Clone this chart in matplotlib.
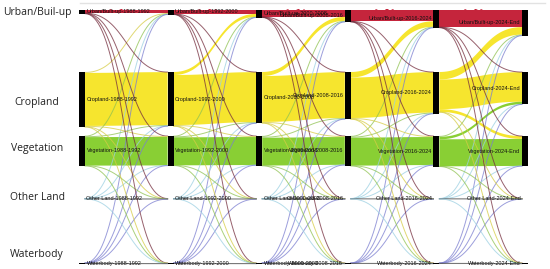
"""Land-cover transition (Sankey-style) chart, 1988 to 2024."""

import matplotlib.pyplot as plt
import numpy as np
from matplotlib.patches import Polygon, Rectangle

plt.rcParams["font.family"] = ["Open Sans", "DejaVu Sans"]

side_labels = ["Urban/Buil-up", "Cropland", "Vegetation", "Other Land", "Waterbody"]
node_names = ["Urban/Built-up", "Cropland", "Vegetation", "Other Land", "Waterbody"]
periods = ["1988-1992", "1992-2000", "2000-2008", "2008-2016", "2016-2024", "2024-End"]

# rows = source class, columns = target class (U, C, V, O, W)
flows_1 = [
    [3.6, 0.15, 0.15, 0.15, 0.15],
    [0.9, 53.0, 0.8, 0.15, 0.15],
    [0.3, 0.8, 28.5, 0.15, 0.15],
    [0.1, 0.1, 0.1, 0.1, 0.1],
    [0.1, 0.1, 0.1, 0.1, 0.1],
]
flows_2 = [
    [4.4, 0.15, 0.15, 0.15, 0.15],
    [3.0, 50.0, 0.9, 0.15, 0.15],
    [0.4, 0.9, 28.0, 0.15, 0.15],
    [0.1, 0.1, 0.1, 0.1, 0.1],
    [0.1, 0.1, 0.1, 0.1, 0.1],
]
flows_3 = [
    [7.4, 0.15, 0.15, 0.15, 0.15],
    [4.0, 45.9, 0.9, 0.15, 0.15],
    [0.8, 0.9, 27.8, 0.15, 0.15],
    [0.1, 0.1, 0.1, 0.1, 0.1],
    [0.1, 0.1, 0.1, 0.1, 0.1],
]
flows_4 = [
    [11.8, 0.15, 0.15, 0.15, 0.15],
    [5.5, 40.5, 0.9, 0.15, 0.15],
    [0.7, 0.9, 28.0, 0.15, 0.15],
    [0.1, 0.1, 0.1, 0.1, 0.1],
    [0.1, 0.1, 0.1, 0.1, 0.1],
]
flows_5 = [
    [17.6, 0.15, 0.15, 0.15, 0.15],
    [7.5, 29.6, 2.8, 0.15, 0.15],
    [0.8, 2.5, 27.0, 0.15, 0.15],
    [0.1, 0.1, 0.1, 0.1, 0.1],
    [0.1, 0.1, 0.1, 0.1, 0.1],
]
transitions = [flows_1, flows_2, flows_3, flows_4, flows_5]

band_colors = ["#c0122b", "#f6e31c", "#7fcb22", "#a9dbe9", "#8486d6"]
line_colors = ["#742c3c", "#d6cc45", "#8fc250", "#9cd0e2", "#7b7ed0"]

# layout (pixel units of the 550x269 canvas)
col_x = np.linspace(79, 522, len(periods))
node_w = 6
node_top = [9.5, 72, 136, 198.5, 263]
label_y = [12, 102, 149, 198, 254]


def bezier(y0, y1, x0, x1, n=50):
    t = np.linspace(0, 1, n)
    xm = (x0 + x1) / 2
    x = (1 - t) ** 3 * x0 + 3 * (1 - t) ** 2 * t * xm + 3 * (1 - t) * t ** 2 * xm + t ** 3 * x1
    y = (1 - t) ** 3 * y0 + 3 * (1 - t) ** 2 * t * y0 + 3 * (1 - t) * t ** 2 * y1 + t ** 3 * y1
    return x, y


fig = plt.figure(figsize=(5.5, 2.69), dpi=100)
ax = fig.add_axes([0, 0, 1, 1])
ax.set_xlim(0, 550)
ax.set_ylim(269, 0)
ax.axis("off")

# node heights = max(inflow, outflow)
n_cls = len(node_names)
heights = np.zeros((len(periods), n_cls))
for t, mat in enumerate(transitions):
    m = np.array(mat)
    heights[t] = np.maximum(heights[t], m.sum(axis=1))
    heights[t + 1] = np.maximum(heights[t + 1], m.sum(axis=0))

# stack links: outgoing ordered by target, incoming ordered by source
thick, thin = [], []
for t, mat in enumerate(transitions):
    m = np.array(mat)
    x0 = col_x[t] + node_w
    x1 = col_x[t + 1]
    src_pos = {}
    off = np.zeros(n_cls)
    for s in range(n_cls):
        for d in range(n_cls):
            src_pos[(s, d)] = node_top[s] + off[s]
            off[s] += m[s, d]
    off = np.zeros(n_cls)
    for d in range(n_cls):
        for s in range(n_cls):
            w = m[s, d]
            yd = node_top[d] + off[d]
            off[d] += w
            item = (s, d, x0, x1, src_pos[(s, d)], yd, w)
            (thick if w >= 1 else thin).append(item)

for s, d, x0, x1, ys, yd, w in thick:
    xt, yt = bezier(ys, yd, x0, x1)
    xb, yb = bezier(ys + w, yd + w, x0, x1)
    pts = np.column_stack([np.r_[xt, xb[::-1]], np.r_[yt, yb[::-1]]])
    ax.add_patch(Polygon(pts, closed=True, facecolor=band_colors[s],
                         edgecolor="none", alpha=0.92, zorder=1))

for s, d, x0, x1, ys, yd, w in thin:
    xc, yc = bezier(ys + w / 2, yd + w / 2, x0, x1)
    if s == d and s >= 3:
        ax.plot(xc, yc, color="#555555", lw=0.8, alpha=0.8, zorder=2)
    else:
        ax.plot(xc, yc, color=line_colors[s], lw=0.7, alpha=0.75, zorder=2)

# node bars and their labels
for t in range(len(periods)):
    for c in range(n_cls):
        h = max(heights[t, c], 0.8)
        ax.add_patch(Rectangle((col_x[t], node_top[c]), node_w, h,
                               facecolor="black", edgecolor="none", zorder=3))
        text = f"{node_names[c]}-{periods[t]}"
        yc = node_top[c] + heights[t, c] / 2
        if t < 3:
            x, ha = col_x[t] + node_w + 1.5, "left"
        else:
            x, ha = col_x[t] - 1.5, "right"
        ax.text(x, yc, text, ha=ha, va="center", fontsize=4, color="#111111",
                family=["Liberation Sans", "DejaVu Sans"], zorder=4)

# side category labels
for lab, y in zip(side_labels, label_y):
    ax.text(37, y, lab, ha="center", va="center", fontsize=7.5, color="#222222")

ax.plot([80, 545], [3, 3], color="#e2e2e2", lw=1, zorder=0)

fig.savefig("out.png", dpi=100, facecolor="white")
